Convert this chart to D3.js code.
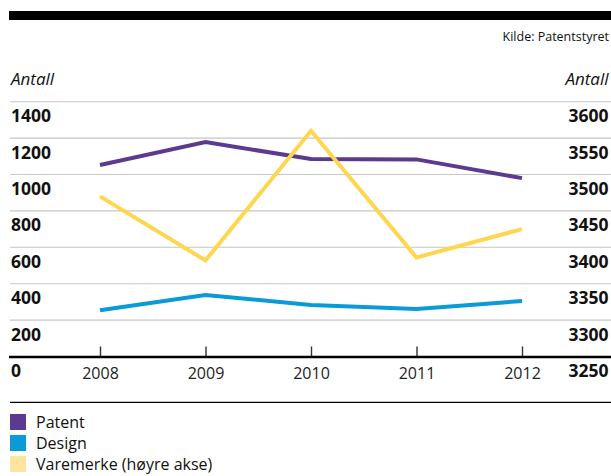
<!DOCTYPE html>
<html>
<head>
<meta charset="utf-8">
<script src="https://cdn.jsdelivr.net/npm/d3@7"></script>
<style>
  html, body { margin: 0; padding: 0; background: #fff; }
  svg { display: block; font-family: "Open Sans", "Noto Sans", sans-serif; }
</style>
</head>
<body>
<svg id="chart" width="611" height="476"></svg>
<script>
// ---- data ----
const years = ["2008", "2009", "2010", "2011", "2012"];
const patent = [1052, 1178, 1085, 1083, 980];
const design = [254, 338, 283, 261, 305];
const varemerke = [3470, 3382, 3560, 3386, 3425];
const leftTicks = [0, 200, 400, 600, 800, 1000, 1200, 1400];
const rightTicks = [3250, 3300, 3350, 3400, 3450, 3500, 3550, 3600];
const seriesNames = ["Patent", "Design", "Varemerke (høyre akse)"];
const sourceText = "Kilde: Patentstyret";
const axisTitle = "Antall";

// ---- styles ----
const colPatent = "#5c3a90";
const colDesign = "#0a9ad8";
const colVare = "#ffd64d";
const colVareLegend = "#fde5a0";

const svg = d3.select("#chart");

// scales
const x = d3.scalePoint().domain(years).range([100, 522]);
const yL = d3.scaleLinear().domain([0, 1400]).range([356.5, 101.7]);
const yR = d3.scaleLinear().domain([3250, 3600]).range([356.5, 101.7]);

// top black bar
svg.append("rect").attr("x", 9).attr("y", 11).attr("width", 602).attr("height", 9).attr("fill", "#000");

// source
svg.append("text").attr("x", 609).attr("y", 41).attr("text-anchor", "end")
  .attr("font-size", 12.5).attr("fill", "#111").text(sourceText);

// axis titles
svg.append("text").attr("x", 11).attr("y", 84.5).attr("font-size", 17)
  .attr("font-style", "italic").attr("fill", "#111").text(axisTitle);
svg.append("text").attr("x", 608.5).attr("y", 84.5).attr("font-size", 17)
  .attr("text-anchor", "end").attr("font-style", "italic").attr("fill", "#111").text(axisTitle);

// gridlines
svg.append("g").selectAll("line").data(leftTicks.filter(d => d > 0)).join("line")
  .attr("x1", 10).attr("x2", 611)
  .attr("y1", d => yL(d)).attr("y2", d => yL(d))
  .attr("stroke", "#c6c6c6").attr("stroke-width", 1.1);

// left axis labels
const gL = svg.append("g").attr("transform", "translate(11,0)")
  .call(d3.axisRight(yL).tickValues(leftTicks).tickSize(0).tickFormat(d3.format("d")));
gL.select(".domain").remove();
gL.selectAll("text").attr("x", 0).attr("dy", "20px").attr("text-anchor", "start")
  .attr("font-size", 17.5).attr("font-weight", "bold").attr("fill", "#111")
  .attr("font-family", "'Open Sans', sans-serif");

// right axis labels
const gR = svg.append("g").attr("transform", "translate(608.5,0)")
  .call(d3.axisLeft(yR).tickValues(rightTicks).tickSize(0).tickFormat(d3.format("d")));
gR.select(".domain").remove();
gR.selectAll("text").attr("x", 0).attr("dy", "20px").attr("text-anchor", "end")
  .attr("font-size", 17.5).attr("font-weight", "bold").attr("fill", "#111")
  .attr("font-family", "'Open Sans', sans-serif");

// x axis
const gX = svg.append("g").attr("transform", "translate(0,356.5)")
  .call(d3.axisBottom(x).tickSize(-10).tickPadding(0));
gX.select(".domain").remove();
gX.selectAll(".tick line").attr("stroke", "#333").attr("stroke-width", 1.4);
gX.selectAll("text").attr("y", 22.8).attr("dy", 0)
  .attr("font-size", 16).attr("fill", "#222").attr("font-family", "'Open Sans', sans-serif");

// axis baseline
svg.append("line").attr("x1", 9).attr("x2", 611).attr("y1", 357).attr("y2", 357)
  .attr("stroke", "#000").attr("stroke-width", 2.6);

// lines
const lineL = d3.line().x((d, i) => x(years[i])).y(d => yL(d));
const lineR = d3.line().x((d, i) => x(years[i])).y(d => yR(d));

svg.append("path").datum(design).attr("d", lineL).attr("fill", "none")
  .attr("stroke", colDesign).attr("stroke-width", 4).attr("stroke-linejoin", "miter");
svg.append("path").datum(patent).attr("d", lineL).attr("fill", "none")
  .attr("stroke", colPatent).attr("stroke-width", 4).attr("stroke-linejoin", "miter");
svg.append("path").datum(varemerke).attr("d", lineR).attr("fill", "none")
  .attr("stroke", colVare).attr("stroke-width", 4).attr("stroke-linejoin", "miter");

// legend separator
svg.append("line").attr("x1", 10).attr("x2", 611).attr("y1", 402.3).attr("y2", 402.3)
  .attr("stroke", "#000").attr("stroke-width", 1.3);

// legend
const legendColors = [colPatent, colDesign, colVareLegend];
const lg = svg.append("g").selectAll("g").data(seriesNames).join("g")
  .attr("transform", (d, i) => `translate(10,${414 + i * 21})`);
lg.append("rect").attr("width", 16).attr("height", 16).attr("fill", (d, i) => legendColors[i]);
lg.append("text").attr("x", 26).attr("y", 13.7).attr("font-size", 16).attr("fill", "#111").text(d => d);
</script>
</body>
</html>
